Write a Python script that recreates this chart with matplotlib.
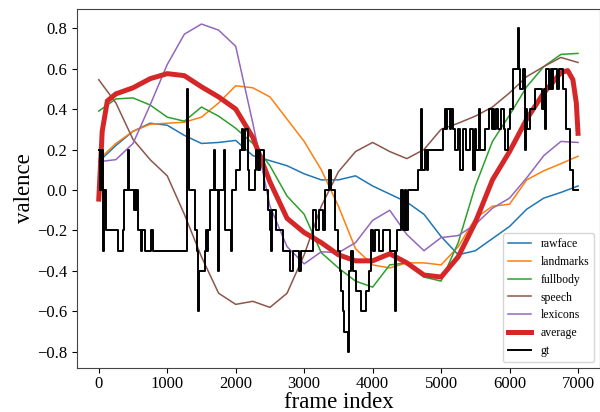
import matplotlib
matplotlib.use('Agg')
import matplotlib.pyplot as plt
import numpy as np

plt.rcParams['font.family'] = ['Liberation Serif', 'DejaVu Serif']

# smoothed predictions, sampled every 250 frames
frames = [0, 250, 500, 750, 1000, 1250, 1500, 1750, 2000, 2250, 2500, 2750, 3000, 3250,
          3500, 3750, 4000, 4250, 4500, 4750, 5000, 5250, 5500, 5750, 6000, 6250, 6500,
          6750, 7000]

rawface = [0.14, 0.22, 0.29, 0.33, 0.32, 0.27, 0.23, 0.235, 0.245, 0.17, 0.145, 0.12, 0.08,
           0.05, 0.05, 0.07, 0.02, -0.02, -0.06, -0.12, -0.23, -0.32, -0.30, -0.24, -0.18,
           -0.095, -0.04, -0.012, 0.02]
landmarks = [0.15, 0.23, 0.29, 0.325, 0.33, 0.335, 0.36, 0.43, 0.515, 0.505, 0.46, 0.35, 0.24,
             0.10, -0.08, -0.29, -0.37, -0.385, -0.36, -0.36, -0.37, -0.28, -0.14, -0.08,
             -0.07, 0.05, 0.095, 0.13, 0.167]
fullbody = [0.39, 0.45, 0.455, 0.42, 0.36, 0.34, 0.41, 0.365, 0.305, 0.23, 0.12, -0.03, -0.12,
            -0.31, -0.385, -0.45, -0.48, -0.37, -0.36, -0.43, -0.45, -0.26, 0.02, 0.24, 0.37,
            0.51, 0.61, 0.67, 0.675]
speech = [0.545, 0.43, 0.25, 0.15, 0.07, -0.12, -0.33, -0.51, -0.565, -0.55, -0.58, -0.51,
          -0.32, -0.08, 0.09, 0.19, 0.235, 0.19, 0.155, 0.20, 0.30, 0.33, 0.365, 0.41, 0.48,
          0.56, 0.61, 0.655, 0.63]
lexicons = [0.14, 0.15, 0.23, 0.42, 0.62, 0.77, 0.82, 0.79, 0.71, 0.33, -0.08, -0.28, -0.365,
            -0.305, -0.31, -0.26, -0.15, -0.10, -0.22, -0.30, -0.235, -0.225, -0.17, -0.09,
            -0.04, 0.06, 0.17, 0.24, 0.235]

avg_frames = [0, 50, 125, 250, 500, 750, 1000, 1250, 1500, 1750, 2000, 2250, 2500, 2750,
              3000, 3250, 3500, 3750, 4000, 4250, 4500, 4750, 5000, 5250, 5500, 5750, 6000,
              6250, 6500, 6750, 6850, 6925, 6975, 7000]
average = [-0.045, 0.29, 0.44, 0.475, 0.505, 0.55, 0.575, 0.565, 0.51, 0.46, 0.40, 0.26, 0.04,
           -0.14, -0.21, -0.26, -0.32, -0.35, -0.35, -0.315, -0.36, -0.42, -0.43, -0.33, -0.16,
           0.05, 0.19, 0.35, 0.48, 0.58, 0.59, 0.545, 0.43, 0.28]

# ground truth annotation: (frame where the value changes, new value)
gt_steps = [
    (0, 0.2), (15, 0.0), (25, 0.2), (35, 0.0), (45, 0.2), (60, -0.3), (80, 0.0),
    (110, -0.2), (280, -0.3), (350, -0.2), (370, 0.0), (420, 0.2), (440, 0.0),
    (510, -0.1), (525, 0.0), (540, -0.1), (555, 0.0), (570, -0.2), (610, -0.3),
    (630, -0.2), (670, -0.3), (770, -0.2), (790, -0.3), (1290, 0.0), (1295, 0.5),
    (1305, 0.3), (1315, 0.0), (1400, -0.2), (1440, -0.3), (1455, -0.6), (1470, -0.4),
    (1550, -0.3), (1570, -0.2), (1585, -0.3), (1600, -0.2), (1620, 0.0), (1690, 0.2),
    (1700, 0.0), (1740, -0.4), (1750, 0.0), (1835, 0.2), (1845, -0.2), (1930, -0.3),
    (1945, 0.0), (2000, 0.1), (2060, 0.2), (2090, 0.3), (2110, 0.2), (2130, 0.3),
    (2180, 0.1), (2200, 0.0), (2280, 0.1), (2300, 0.2), (2330, 0.1), (2350, 0.2),
    (2420, 0.0), (2470, -0.1), (2500, -0.2), (2515, -0.3), (2530, -0.1), (2590, -0.2),
    (2690, -0.3), (2790, -0.4), (2830, -0.3), (2930, -0.4), (2950, -0.3), (3130, -0.1),
    (3180, -0.2), (3220, -0.1), (3280, -0.2), (3300, 0.0), (3370, 0.1), (3395, 0.0),
    (3445, -0.2), (3490, -0.3), (3520, -0.4), (3545, -0.5), (3560, -0.6), (3580, -0.7),
    (3640, -0.8), (3660, -0.4), (3690, -0.3), (3720, -0.4), (3760, -0.5), (3830, -0.6),
    (3900, -0.5), (3950, -0.4), (3970, -0.2), (4000, -0.3), (4040, -0.2), (4100, -0.3),
    (4150, -0.2), (4250, -0.3), (4320, -0.6), (4335, -0.3), (4350, -0.2), (4420, 0.0),
    (4440, -0.2), (4470, 0.0), (4490, -0.2), (4510, 0.0), (4660, 0.1), (4705, 0.4),
    (4720, 0.1), (4760, 0.2), (4790, 0.1), (4805, 0.2), (5025, 0.3), (5050, 0.4),
    (5070, 0.3), (5090, 0.4), (5130, 0.3), (5150, 0.4), (5180, 0.3), (5200, 0.2),
    (5250, 0.3), (5280, 0.1), (5320, 0.3), (5370, 0.2), (5420, 0.3), (5465, 0.1),
    (5500, 0.3), (5515, 0.2), (5560, 0.4), (5570, 0.2), (5640, 0.3), (5700, 0.4),
    (5740, 0.3), (5760, 0.4), (5780, 0.3), (5800, 0.4), (5830, 0.3), (5880, 0.4),
    (5920, 0.3), (5935, 0.2), (5980, 0.3), (6000, 0.4), (6050, 0.6), (6120, 0.8),
    (6135, 0.6), (6150, 0.5), (6190, 0.6), (6220, 0.2), (6235, 0.4), (6260, 0.3),
    (6300, 0.4), (6370, 0.5), (6470, 0.4), (6500, 0.5), (6515, 0.3), (6530, 0.6),
    (6580, 0.5), (6600, 0.6), (6620, 0.5), (6640, 0.6), (6700, 0.5), (6720, 0.6),
    (6780, 0.5), (6830, 0.3), (6880, 0.1), (6925, 0.0), (7000, 0.0),
]
gt_frames = [f for f, v in gt_steps]
gt_values = [v for f, v in gt_steps]

fig = plt.figure(figsize=(6.0, 4.12), dpi=100)
ax = fig.add_axes([0.128, 0.107, 0.872, 0.871])

ax.plot(frames, rawface, color='#1f77b4', lw=1.1, label='rawface')
ax.plot(frames, landmarks, color='#ff7f0e', lw=1.1, label='landmarks')
ax.plot(frames, fullbody, color='#2ca02c', lw=1.1, label='fullbody')
ax.plot(frames, speech, color='#8c564b', lw=1.1, label='speech')
ax.plot(frames, lexicons, color='#9467bd', lw=1.1, label='lexicons')
ax.plot(avg_frames, average, color='#d62728', lw=3.6, label='average')
ax.plot(gt_frames, gt_values, color='black', lw=1.4, drawstyle='steps-post', label='gt')

ax.set_xlim(-321, 7321)
ax.set_ylim(-0.879, 0.894)
ax.set_xticks(np.arange(0, 7001, 1000))
ax.set_yticks(np.arange(-0.8, 0.81, 0.2))
ax.tick_params(labelsize=12)
ax.tick_params(axis='x', pad=2.5)
ax.set_xlabel('frame index', fontsize=16.5, labelpad=-0.5)
ax.set_ylabel('valence', fontsize=16.5, labelpad=1)
for s in ax.spines.values():
    s.set_color('#444444')

ax.legend(loc='lower right', fontsize=8.5, framealpha=0.8)
fig.savefig('out.png', dpi=100)
